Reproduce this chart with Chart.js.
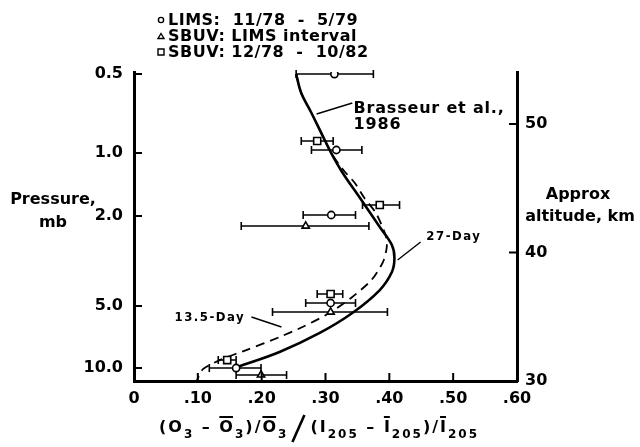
<!DOCTYPE html>
<html>
<head>
<meta charset="utf-8">
<script src="https://cdn.jsdelivr.net/npm/chart.js@4.4.0/dist/chart.umd.min.js"></script>
<style>
  html, body { margin: 0; padding: 0; background: #fff; }
  canvas { display: block; }
</style>
</head>
<body>
<canvas id="profile" width="640" height="447"></canvas>
<script>
// ── x axis: normalized ozone response ──
const xTicks = [0, 0.1, 0.2, 0.3, 0.4, 0.5, 0.6];
const xTickLabels = ['0', '.10', '.20', '.30', '.40', '.50', '.60'];

// ── vertical axes: approx altitude (km) on the right, pressure levels on the left ──
const altTicks = [30, 40, 50];
const pressureLabels = ['0.5', '1.0', '2.0', '5.0', '10.0'];
const pressureAlt = [53.9, 47.74, 42.84, 35.84, 31.01];

// ── model curves (x, altitude km) ──
const day27X   = [0.254, 0.262, 0.278, 0.295, 0.309, 0.327, 0.353, 0.385, 0.404, 0.408, 0.404, 0.385, 0.342, 0.291, 0.228, 0.162];
const day27Alt = [53.89, 52.41, 50.86, 49.14, 47.74, 46.19, 44.32, 41.98, 40.58, 39.57, 38.48, 37.08, 35.29, 33.74, 32.26, 31.09];
const day135X   = [0.254, 0.262, 0.278, 0.295, 0.309, 0.328, 0.346, 0.361, 0.379, 0.394, 0.396, 0.390, 0.372, 0.342, 0.306, 0.264, 0.228, 0.176, 0.136, 0.108, 0.098];
const day135Alt = [53.89, 52.41, 50.86, 49.14, 47.74, 46.42, 45.41, 44.24, 43.07, 41.36, 40.43, 39.26, 37.86, 36.54, 35.29, 34.20, 33.42, 32.41, 31.66, 30.92, 30.0];

// ── LIMS 11/78 - 5/79 ──
const limsX   = [0.314, 0.317, 0.309, 0.308, 0.160];
const limsAlt = [53.89, 47.98, 42.92, 36.07, 31.01];
const limsLo  = [0.254, 0.278, 0.265, 0.269, 0.118];
const limsHi  = [0.375, 0.357, 0.347, 0.347, 0.199];

// ── SBUV, LIMS interval ──
const sbuvLX   = [0.269, 0.308, 0.199];
const sbuvLAlt = [42.06, 35.37, 30.47];
const sbuvLLo  = [0.168, 0.217, 0.160];
const sbuvLHi  = [0.368, 0.397, 0.239];

// ── SBUV 12/78 - 10/82 ──
const sbuvX   = [0.287, 0.385, 0.308, 0.146];
const sbuvAlt = [48.68, 43.70, 36.77, 31.63];
const sbuvLo  = [0.262, 0.358, 0.287, 0.132];
const sbuvHi  = [0.312, 0.416, 0.327, 0.160];

const FONT = '"DejaVu Sans", "Liberation Sans", Arial, sans-serif';
const NARROW = '"DejaVu Sans Condensed", "Liberation Sans Narrow", "DejaVu Sans", sans-serif';

const pts = (xs, ys) => xs.map((x, i) => ({ x: x, y: ys[i] }));

function markerSet(label, xs, ys, lo, hi, style, radius) {
  return {
    label: label,
    data: pts(xs, ys),
    errLo: lo,
    errHi: hi,
    showLine: false,
    pointStyle: style,
    pointRadius: radius,
    pointBackgroundColor: '#fff',
    pointBorderColor: '#000',
    pointBorderWidth: 1.6
  };
}

// text with extra tracking, like the typed labels on the figure
function spaced(ctx, text, x, y, spacing) {
  if ('letterSpacing' in ctx) {
    ctx.letterSpacing = spacing + 'px';
    ctx.fillText(text, x, y);
    ctx.letterSpacing = '0px';
  } else {
    ctx.fillText(text, x, y);
  }
}

function leader(ctx, xs, ys, a, b) {
  ctx.beginPath();
  ctx.moveTo(xs.getPixelForValue(a[0]), ys.getPixelForValue(a[1]));
  ctx.lineTo(xs.getPixelForValue(b[0]), ys.getPixelForValue(b[1]));
  ctx.stroke();
}

// x-axis title: (O3 - Ō3)/Ō3 / (I205 - Ī205)/Ī205
function drawXTitle(ctx, cx, base) {
  const main = 'bold 16px ' + FONT, sub = 'bold 12px ' + FONT;
  // kind: 0 plain, 1 subscript, 2 overbar, 3 big slash
  const parts = [
    ['(O', 0], ['3', 1], [' \u2013 ', 0], ['O', 2], ['3', 1], [')/', 0], ['O', 2], ['3', 1],
    ['', 3],
    ['(I', 0], ['205', 1], [' \u2013 ', 0], ['I', 2], ['205', 1], [')/', 0], ['I', 2], ['205', 1]
  ];
  const track = 2;
  if ('letterSpacing' in ctx) ctx.letterSpacing = track + 'px';
  const widths = parts.map(([t, k]) => {
    if (k === 3) return 22;
    ctx.font = k === 1 ? sub : main;
    return ctx.measureText(t).width;
  });
  const total = widths.reduce((s, w) => s + w, 0);
  let x = cx - total / 2;
  ctx.textAlign = 'left';
  ctx.textBaseline = 'alphabetic';
  parts.forEach(([t, k], i) => {
    if (k === 3) {
      ctx.save();
      ctx.lineWidth = 2.6;
      ctx.beginPath();
      ctx.moveTo(x + 4, base + 10);
      ctx.lineTo(x + 16, base - 17);
      ctx.stroke();
      ctx.restore();
    } else {
      ctx.font = k === 1 ? sub : main;
      ctx.fillText(t, x, k === 1 ? base + 6 : base);
      if (k === 2) {
        ctx.fillRect(x, base - 16, widths[i] - track, 2);
      }
    }
    x += widths[i];
  });
  if ('letterSpacing' in ctx) ctx.letterSpacing = '0px';
}

const figureExtras = {
  id: 'figureExtras',
  beforeDatasetsDraw(chart) {
    // horizontal error bars with end caps, under the markers
    const { ctx, scales: { x, y } } = chart;
    ctx.save();
    ctx.strokeStyle = '#000';
    ctx.lineWidth = 1.6;
    chart.data.datasets.forEach(ds => {
      if (!ds.errLo) return;
      ds.data.forEach((p, i) => {
        const py = y.getPixelForValue(p.y);
        const x0 = x.getPixelForValue(ds.errLo[i]);
        const x1 = x.getPixelForValue(ds.errHi[i]);
        ctx.beginPath();
        ctx.moveTo(x0, py); ctx.lineTo(x1, py);
        ctx.moveTo(x0, py - 4); ctx.lineTo(x0, py + 4);
        ctx.moveTo(x1, py - 4); ctx.lineTo(x1, py + 4);
        ctx.stroke();
      });
    });
    ctx.restore();
  },
  afterDraw(chart) {
    const { ctx, chartArea: area, scales: { x, y, y2 } } = chart;
    ctx.save();
    ctx.strokeStyle = '#000';
    ctx.fillStyle = '#000';

    // inward tick marks
    ctx.lineWidth = 2;
    ctx.beginPath();
    x.ticks.forEach(t => {
      if (t.value <= x.min || t.value >= x.max) return;
      const px = x.getPixelForValue(t.value);
      ctx.moveTo(px, area.bottom); ctx.lineTo(px, area.bottom - 8);
    });
    y.ticks.forEach(t => {
      const py = y.getPixelForValue(t.value);
      ctx.moveTo(area.left, py); ctx.lineTo(area.left + 8, py);
    });
    y2.ticks.forEach(t => {
      if (t.value <= y2.min) return;
      const py = y2.getPixelForValue(t.value);
      ctx.moveTo(area.right, py); ctx.lineTo(area.right - 8, py);
    });
    ctx.stroke();

    // legend block
    ctx.font = 'bold 16px ' + FONT;
    ctx.textAlign = 'left';
    ctx.textBaseline = 'middle';
    const legend = [
      ['circle', 'LIMS:  11/78  -  5/79'],
      ['triangle', 'SBUV: LIMS interval'],
      ['rect', 'SBUV: 12/78  -  10/82']
    ];
    legend.forEach(([shape, text], i) => {
      const ly = 20 + i * 16;
      ctx.lineWidth = 1.4;
      ctx.beginPath();
      if (shape === 'circle') ctx.arc(161, ly, 2.6, 0, Math.PI * 2);
      else if (shape === 'triangle') { ctx.moveTo(158, ly + 2.5); ctx.lineTo(164, ly + 2.5); ctx.lineTo(161, ly - 2.5); ctx.closePath(); }
      else ctx.rect(158, ly - 3, 6, 6);
      ctx.stroke();
      spaced(ctx, text, 168, ly + 1, 0.5);
    });

    // axis titles
    ctx.textAlign = 'center';
    ctx.fillText('Pressure,', 53, 200);
    ctx.fillText('mb', 53, 223);
    ctx.fillText('Approx', 578, 195);
    ctx.fillText('altitude, km', 580, 217);

    // curve annotations
    ctx.lineWidth = 1.4;
    ctx.textAlign = 'left';
    leader(ctx, x, y, [0.286, 50.78], [0.342, 51.64]);
    spaced(ctx, 'Brasseur et al.,', x.getPixelForValue(0.344), y.getPixelForValue(51.2), 0.8);
    spaced(ctx, '1986', x.getPixelForValue(0.344), y.getPixelForValue(49.9), 0.8);

    ctx.font = 'bold 13px ' + NARROW;
    leader(ctx, x, y, [0.413, 39.42], [0.449, 40.82]);
    spaced(ctx, '27-Day', x.getPixelForValue(0.458), y.getPixelForValue(41.2), 1.5);
    leader(ctx, x, y, [0.184, 34.98], [0.231, 34.20]);
    ctx.textAlign = 'right';
    spaced(ctx, '13.5-Day', x.getPixelForValue(0.174), y.getPixelForValue(34.95), 1.5);

    ctx.textAlign = 'left';
    drawXTitle(ctx, 319, 432);
    ctx.restore();
  }
};

const tickFont = { family: FONT, size: 16, weight: 'bold' };

new Chart(document.getElementById('profile'), {
  type: 'scatter',
  data: {
    datasets: [
      markerSet('SBUV: 12/78 - 10/82', sbuvX, sbuvAlt, sbuvLo, sbuvHi, 'rect', 5),
      markerSet('SBUV: LIMS interval', sbuvLX, sbuvLAlt, sbuvLLo, sbuvLHi, 'triangle', 4.2),
      markerSet('LIMS: 11/78 - 5/79', limsX, limsAlt, limsLo, limsHi, 'circle', 3.6),
      {
        label: '27-Day',
        data: pts(day27X, day27Alt),
        showLine: true,
        borderColor: '#000',
        borderWidth: 2.6,
        pointRadius: 0,
        tension: 0.35
      },
      {
        label: '13.5-Day',
        data: pts(day135X, day135Alt),
        showLine: true,
        borderColor: '#000',
        borderWidth: 1.8,
        borderDash: [9, 6],
        pointRadius: 0,
        tension: 0.25
      }
    ]
  },
  options: {
    responsive: false,
    animation: false,
    layout: { padding: { top: 72, left: 0, right: 0, bottom: 0 } },
    plugins: {
      legend: { display: false },
      tooltip: { enabled: false }
    },
    scales: {
      x: {
        type: 'linear',
        min: 0,
        max: 0.6,
        afterBuildTicks: s => { s.ticks = xTicks.map(v => ({ value: v })); },
        ticks: { font: tickFont, color: '#000', padding: 0, maxRotation: 0, callback: (v, i) => xTickLabels[i] },
        grid: { display: false },
        border: { display: true, color: '#000', width: 3 },
        afterFit: s => { s.height = 66; }
      },
      y: {
        type: 'linear',
        position: 'left',
        min: 30,
        max: 54.05,
        afterBuildTicks: s => { s.ticks = pressureAlt.map(v => ({ value: v })); },
        ticks: { font: tickFont, color: '#000', padding: 3, callback: (v, i) => pressureLabels[i] },
        grid: { display: false },
        border: { display: true, color: '#000', width: 3 },
        afterFit: s => { s.width = 134; }
      },
      y2: {
        type: 'linear',
        position: 'right',
        min: 30,
        max: 54.05,
        afterBuildTicks: s => { s.ticks = altTicks.map(v => ({ value: v })); },
        ticks: { font: tickFont, color: '#000', padding: 0 },
        grid: { display: false },
        border: { display: true, color: '#000', width: 3 },
        afterFit: s => { s.width = 123; }
      }
    }
  },
  plugins: [figureExtras]
});
</script>
</body>
</html>
